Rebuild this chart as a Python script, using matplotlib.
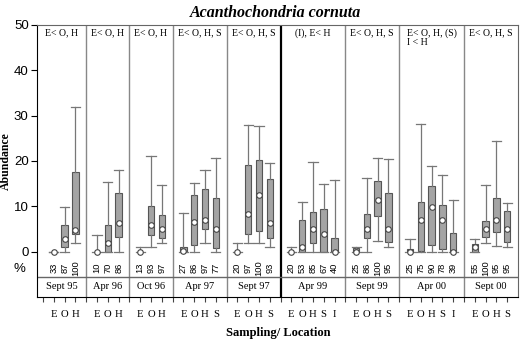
import numpy as np
import matplotlib
matplotlib.use('Agg')
import matplotlib.pyplot as plt

plt.rcParams['font.family'] = 'Liberation Serif'

# ---- data ----
samplings = ['Sept 95', 'Apr 96', 'Oct 96', 'Apr 97', 'Sept 97',
             'Apr 99', 'Sept 99', 'Apr 00', 'Sept 00']
sites = [['E', 'O', 'H'], ['E', 'O', 'H'], ['E', 'O', 'H'],
         ['E', 'O', 'H', 'S'], ['E', 'O', 'H', 'S'],
         ['E', 'O', 'H', 'S', 'I'], ['E', 'O', 'H', 'S'],
         ['E', 'O', 'H', 'S', 'I'], ['E', 'O', 'H', 'S']]
tests = ['E< O, H', 'E< O, H', 'E< O, H', 'E< O, H, S', 'E< O, H, S',
         '(I), E< H', 'E< O, H, S', 'E< O, H, (S)\nI < H', 'E< O, H, S']
percent = [[33, 87, 100], [10, 70, 86], [13, 93, 97], [27, 86, 97, 77],
           [20, 97, 100, 93], [20, 53, 85, 67, 40], [25, 86, 100, 95],
           [25, 75, 90, 78, 39], [55, 100, 95, 95]]

whis_lo = [[0, 0, 1.9], [0, 0, 0], [0, 1.1, 1.9], [0, 0, 1.9, 0],
           [0, 1.9, 1.9, 1.1], [0, 0, 0, 0, 0], [0, 0, 2.3, 1.1],
           [0, 0, 0, 0, 0], [0, 2.0, 1.3, 1.1]]
q1 = [[0, 1.0, 3.95], [0, 0, 3.2], [0, 3.7, 3.0], [0, 1.4, 4.9, 0.7],
      [0, 3.95, 4.5, 3.0], [0, 0, 1.9, 0, 0], [0, 3.0, 7.9, 2.1],
      [0, 0.2, 1.4, 0.5, 0], [0, 3.3, 4.25, 2.1]]
med = [[0, 2.9, 4.8], [0, 1.9, 6.4], [0, 5.9, 5.0], [0.2, 6.5, 7.0, 5.1],
       [0, 8.35, 12.45, 6.4], [0, 1.1, 4.9, 3.95, 0], [0, 5.05, 11.5, 5.05],
       [0, 7.0, 9.8, 7.0, 0], [1.0, 5.05, 7.0, 5.05]]
q3 = [[0, 5.9, 17.5], [0, 5.9, 12.9], [0, 10.0, 8.1], [0.95, 12.5, 13.9, 11.9],
      [0, 19.2, 20.2, 16.0], [0, 7.0, 8.65, 9.45, 3.0], [0.8, 8.4, 15.5, 12.9],
      [0.65, 10.9, 14.4, 10.4, 4.1], [1.7, 6.7, 11.9, 8.9]]
whis_hi = [[0, 9.8, 31.9], [3.6, 15.4, 18.0], [1.0, 21.2, 14.6],
           [8.5, 15.1, 18.0, 20.7], [1.8, 27.9, 27.7, 19.6],
           [1.0, 10.9, 19.7, 14.9, 15.75], [1.0, 16.3, 20.6, 20.4],
           [2.9, 28.1, 18.9, 16.9, 11.4], [2.9, 14.6, 24.5, 10.7]]

# ---- slot layout: one blank slot, then each group followed by a divider ----
positions, dividers, centers = [], [], []
pos = 1
for g in sites:
    p = list(range(pos, pos + len(g)))
    positions.append(p)
    dividers.append(pos + len(g))
    centers.append((pos - 1 + pos + len(g)) / 2)
    pos += len(g) + 1
left_edge = -0.56
centers[0] = (left_edge + dividers[0]) / 2

fig = plt.figure(figsize=(5.2, 3.42), dpi=100)
ax = fig.add_axes([0.0712, 0.1316, 0.925, 0.7954])

stats, flat_pos, flat_med = [], [], []
for gi in range(len(sites)):
    for si in range(len(sites[gi])):
        stats.append(dict(whislo=whis_lo[gi][si], q1=q1[gi][si], med=med[gi][si],
                          q3=q3[gi][si], whishi=whis_hi[gi][si], fliers=[]))
        flat_pos.append(positions[gi][si])
        flat_med.append(med[gi][si])

ax.bxp(stats, positions=flat_pos, widths=0.6, capwidths=0.85, patch_artist=True,
       showfliers=False, manage_ticks=False,
       boxprops=dict(facecolor='#a4a4a4', edgecolor='#555555', linewidth=0.8),
       whiskerprops=dict(color='#777777', linewidth=0.9),
       capprops=dict(color='#777777', linewidth=0.9),
       medianprops=dict(linewidth=0))
ax.plot(flat_pos, flat_med, 'o', ms=4, mfc='white', mec='#444444', mew=0.8,
        zorder=5)

# dividers and row line
for i, d in enumerate(dividers[:-1]):
    if i == 4:
        ax.axvline(d, color='black', lw=1.6, zorder=1)
    else:
        ax.axvline(d, color='#888888', lw=1.0, zorder=1)
ax.axhline(-5.5, color='#666666', lw=1.0)

# texts
for gi in range(len(sites)):
    ax.text(centers[gi], 49.3, tests[gi], ha='center', va='top', fontsize=7,
            multialignment='left', linespacing=1.1)
    ax.text(centers[gi], -7.75, samplings[gi], ha='center', va='center',
            fontsize=7.5)
    for si, p in enumerate(positions[gi]):
        ax.text(p, -3.6, str(percent[gi][si]), rotation=90, ha='center',
                va='center', fontsize=6.7, family='Liberation Sans')

ax.set_xlim(left_edge, dividers[-1])
ax.set_ylim(-10, 50)

ax.set_yticks([0, 10, 20, 30, 40, 50])
ax.set_yticklabels(['0', '10', '20', '30', '40', '50'], family='Liberation Sans',
                   fontsize=9.5)
all_ticks = list(range(0, dividers[-1]))
labels = [''] * len(all_ticks)
for gi in range(len(sites)):
    for si, p in enumerate(positions[gi]):
        labels[p] = sites[gi][si]
ax.set_xticks(all_ticks)
ax.set_xticklabels(labels, fontsize=7.7)
ax.tick_params(axis='x', length=3.5, pad=6, color='#444444')
ax.tick_params(axis='y', length=4, pad=2)

for s in ['top', 'right']:
    ax.spines[s].set_color('#666666')

fig.text(0.038, 1 - 269 / 342, '%', ha='center', va='center', fontsize=9.5,
         family='Liberation Sans')
fig.text(0.012, 1 - 161 / 342, 'Abundance', rotation=90, ha='center',
         va='center', fontsize=8.5, fontweight='bold')
fig.text(0.535, 1 - 333 / 342, 'Sampling/ Location', ha='center', va='center',
         fontsize=9, fontweight='bold')
fig.text(0.53, 1 - 13 / 342, 'Acanthochondria cornuta', ha='center',
         va='center', fontsize=11.5, fontweight='bold', style='italic')

fig.savefig('out.png', dpi=100)
